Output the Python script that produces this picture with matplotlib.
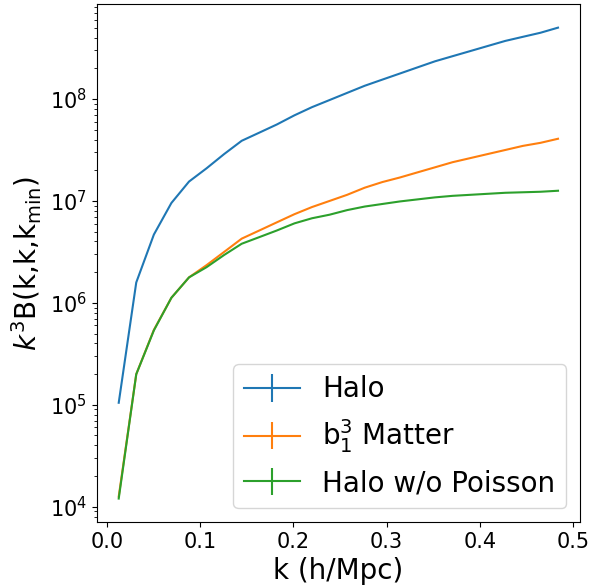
import numpy as np
import matplotlib
matplotlib.use("Agg")
import matplotlib.pyplot as plt

# k bins (h/Mpc): centres at (2 + 3n) * k_f with k_f = 2*pi/1000
k = np.array([0.0126, 0.0314, 0.0503, 0.0691, 0.0880, 0.1068, 0.1257, 0.1445,
              0.1634, 0.1822, 0.2011, 0.2199, 0.2388, 0.2576, 0.2765, 0.2953,
              0.3142, 0.3330, 0.3519, 0.3707, 0.3896, 0.4084, 0.4273, 0.4461,
              0.4650, 0.4838])

# log10 of k^3 B(k, k, k_min)
log_halo = [5.02, 6.20, 6.67, 6.98, 7.19, 7.32, 7.46, 7.59,
            7.67, 7.75, 7.84, 7.92, 7.99, 8.06, 8.13, 8.19,
            8.25, 8.31, 8.37, 8.42, 8.47, 8.52, 8.57, 8.61,
            8.65, 8.70]
log_matter = [4.10, 5.30, 5.735, 6.05, 6.25, 6.37, 6.50, 6.63,
              6.71, 6.79, 6.87, 6.94, 7.00, 7.06, 7.13, 7.185,
              7.23, 7.28, 7.33, 7.38, 7.42, 7.46, 7.50, 7.54,
              7.57, 7.61]
log_nopoisson = [4.08, 5.30, 5.73, 6.05, 6.25, 6.35, 6.47, 6.58,
                 6.645, 6.71, 6.78, 6.83, 6.865, 6.91, 6.945, 6.97,
                 6.995, 7.015, 7.035, 7.05, 7.06, 7.07, 7.08, 7.085,
                 7.09, 7.10]

# jackknife errors are tiny on this scale
err_halo = np.zeros(len(k))
err_matter = np.zeros(len(k))
err_nopoisson = np.zeros(len(k))

fig = plt.figure(figsize=(5.9, 5.86), dpi=100)
ax = fig.add_axes([0.164, 0.109, 0.819, 0.884])

ax.errorbar(k, 10 ** np.array(log_halo), yerr=err_halo, label="Halo")
ax.errorbar(k, 10 ** np.array(log_matter), yerr=err_matter, label=r"b$_1^3$ Matter")
ax.errorbar(k, 10 ** np.array(log_nopoisson), yerr=err_nopoisson, label="Halo w/o Poisson")

ax.set_yscale("log")
ax.set_xlabel("k (h/Mpc)", fontsize=20)
ax.set_ylabel(r"$k^3$B(k,k,k$_{\mathrm{min}}$)", fontsize=20)
ax.tick_params(labelsize=15)
ax.legend(fontsize=20, loc="lower right")

fig.savefig("out.png", dpi=100)
